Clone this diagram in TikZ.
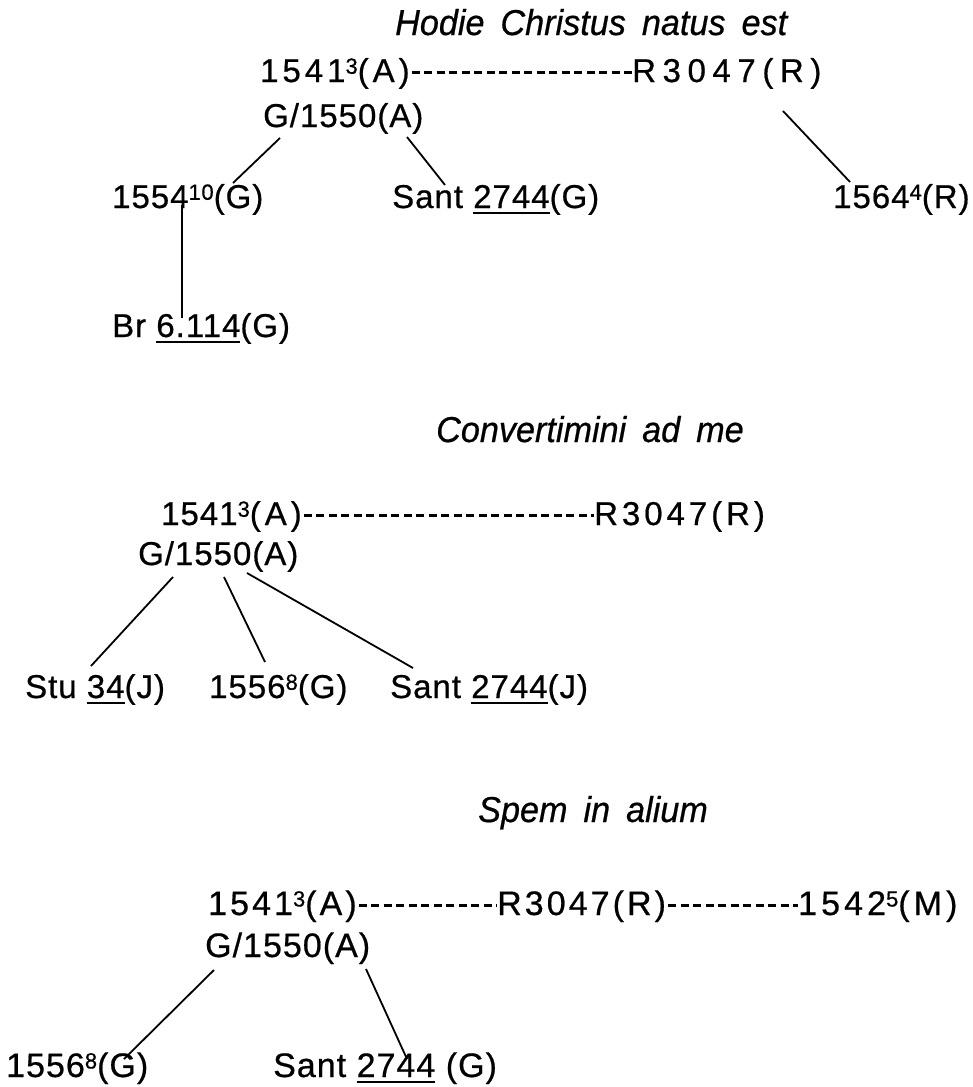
\documentclass[tikz,border=0pt]{standalone}
\usepackage{fontspec}
\setmainfont[LetterSpace=3,FakeBold=0.6]{Liberation Sans}
\newfontfamily\titlefont[FakeStretch=0.95,FakeBold=0.6]{Liberation Sans}
\newcommand\LS[1]{\addfontfeature{LetterSpace=#1}}
\newcommand\sups[1]{\raisebox{0.25em}{\fontsize{22}{22}\selectfont #1}}
\newcommand\ul[1]{\setbox0\hbox{#1}\rlap{\rule[-6pt]{\wd0}{2.2pt}}\box0\relax}
\newcommand\W{\hspace{16pt}}
\begin{document}
\begin{tikzpicture}[x=1pt,y=-1pt,
  lbl/.style={anchor=base west, inner sep=0pt, font=\fontsize{33}{38}\selectfont},
  big/.style={anchor=base west, inner sep=0pt, font=\fontsize{34}{40}\selectfont},
  ttl/.style={anchor=base west, inner sep=0pt, font=\fontsize{36}{42}\titlefont\itshape},
  link/.style={line width=1.8pt},
  dashline/.style={line width=3pt, dash pattern=on 8pt off 4.5pt}]
\useasboundingbox (0,0) rectangle (973,1087);
% ---------- Section 1
\node[ttl] (t1) at (395,35) {Hodie\W Christus\W natus\W est};
\node[lbl] (a1) at (260,82) {\LS{12}1541\sups{3}(A)};
\node[lbl] (r1) at (632,82) {\LS{20}R3047(R)};
\node[lbl] (g1) at (263,127) {G/1550(A)};
\node[lbl] (n1554) at (112,208) {1554\sups{10}(G)};
\node[lbl] (s1) at (392,208) {Sant \ul{2744}(G)};
\node[lbl] (n1564) at (833,208) {1564\sups{4}(R)};
\node[lbl] (br) at (112,337) {Br \ul{6.114}(G)};
\draw[dashline] ([xshift=2pt,yshift=10pt]a1.base east) -- ([yshift=10pt]r1.base west);
\draw[link] ([xshift=17pt,yshift=-11pt]g1.base west) -- ([xshift=121pt,yshift=25pt]n1554.base west);
\draw[link] ([xshift=144pt,yshift=-10pt]g1.base west) -- ([xshift=53pt,yshift=23pt]s1.base west);
\draw[link] ([xshift=151pt,yshift=-29pt]r1.base west) -- ([xshift=17pt,yshift=26pt]n1564.base west);
\draw[link] ([xshift=70pt,yshift=3pt]n1554.base west) -- ([xshift=70pt,yshift=19pt]br.base west);
% ---------- Section 2
\node[ttl] (t2) at (436,442) {Convertimini\W ad\W me};
\node[lbl] (a2) at (161,525) {1541\sups{3}{\LS{12}(A)}};
\node[lbl] (r2) at (594,525) {\LS{12}R3047(R)};
\node[lbl] (g2) at (138,565) {G/1550(A)};
\node[lbl] (stu) at (25,698) {Stu \ul{34}(J)};
\node[lbl] (n1556) at (209,698) {1556\sups{8}(G)};
\node[lbl] (s2) at (390,698) {Sant \ul{2744}(J)};
\draw[dashline] ([xshift=2pt,yshift=10pt]a2.base east) -- ([yshift=10pt]r2.base west);
\draw[link] ([xshift=35pt,yshift=-12pt]g2.base west) -- ([xshift=66pt,yshift=32pt]stu.base west);
\draw[link] ([xshift=86pt,yshift=-12pt]g2.base west) -- ([xshift=56pt,yshift=36pt]n1556.base west);
\draw[link] ([xshift=109pt,yshift=-8pt]g2.base west) -- ([xshift=23pt,yshift=30pt]s2.base west);
% ---------- Section 3
\node[ttl] (t3) at (478,822) {Spem\W in\W alium};
\node[big] (a3) at (208,915) {\LS{9}1541\sups{3}(A)};
\node[big] (r3) at (497,915) {\LS{9}R3047(R)};
\node[big] (m3) at (798,915) {\LS{12}1542\sups{5}(M)};
\node[big] (g3) at (205,957) {G/1550(A)};
\node[big] (n1556b) at (6,1077) {1556\sups{8}(G)};
\node[big] (s3) at (273,1077) {Sant \ul{2744} (G)};
\draw[dashline] ([xshift=2pt,yshift=10pt]a3.base east) -- ([yshift=10pt]r3.base west);
\draw[dashline] ([xshift=2pt,yshift=10pt]r3.base east) -- ([yshift=10pt]m3.base west);
\draw[link] ([xshift=9pt,yshift=-13pt]g3.base west) -- ([xshift=118pt,yshift=18pt]n1556b.base west);
\draw[link] ([xshift=161pt,yshift=-12pt]g3.base west) -- ([xshift=134pt,yshift=18pt]s3.base west);
\end{tikzpicture}
\end{document}
